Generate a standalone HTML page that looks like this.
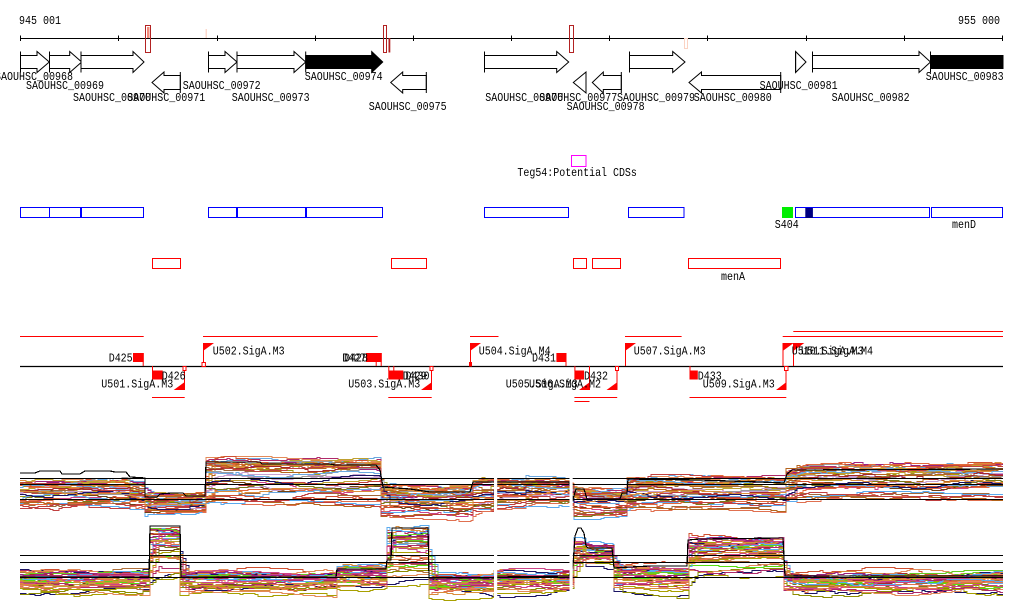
<!DOCTYPE html>
<html><head><meta charset="utf-8">
<style>
html,body{margin:0;padding:0;background:#fff;width:1024px;height:611px;overflow:hidden}
svg{display:block}
text{font-family:"Liberation Mono","DejaVu Sans Mono",monospace;font-size:12px;fill:#000}
</style></head><body>
<svg id="s" width="1024" height="611" viewBox="0 0 1024 611" xmlns="http://www.w3.org/2000/svg">
<rect width="1024" height="611" fill="#fff"/>

<!-- ===== coordinate axis ===== -->
<text x="19" y="24" textLength="42" lengthAdjust="spacingAndGlyphs">945 001</text>
<text x="958" y="24" textLength="42" lengthAdjust="spacingAndGlyphs">955 000</text>
<line x1="20.5" y1="38.5" x2="1003" y2="38.5" stroke="#000"/>
<path d="M20.5 35.5V41M118.5 35.5V41M217.5 35.5V41M315.5 35.5V41M413.5 35.5V41M511.5 35.5V41M609.5 35.5V41M707.5 35.5V41M806.5 35.5V41M904.5 35.5V41M1002.5 35.5V41" stroke="#000" fill="none"/>

<!-- red marks on axis -->
<rect x="147" y="27" width="2.5" height="11" fill="#f28a7a"/>
<rect x="145.5" y="25.5" width="5" height="27" fill="none" stroke="#b22222"/>
<rect x="205.5" y="29" width="1.5" height="9" fill="#fcd9cc"/>
<rect x="383.5" y="25.5" width="3" height="27" fill="none" stroke="#b22222"/>
<rect x="388.5" y="38" width="1.8" height="14.5" fill="#b22222"/>
<rect x="569.5" y="25.5" width="4" height="27" fill="none" stroke="#b22222"/>
<rect x="684.5" y="38.5" width="3" height="10" fill="none" stroke="#fbd3c3"/>

<!-- ===== genes: forward row ===== -->
<g stroke="#000" stroke-width="1" fill="#fff">
<polygon points="20.5,55.5 37,55.5 37,51.5 49.3,62 37,72.5 37,68.5 20.5,68.5"/>
<polygon points="49.5,55.5 69.7,55.5 69.7,51.5 81.7,62 69.7,72.5 69.7,68.5 49.5,68.5"/>
<polygon points="81,55.5 133,55.5 133,51.5 144,62 133,72.5 133,68.5 81,68.5"/>
<polygon points="208.5,55.5 225,55.5 225,51.5 237,62 225,72.5 225,68.5 208.5,68.5"/>
<polygon points="237,55.5 294,55.5 294,51.5 305.7,62 294,72.5 294,68.5 237,68.5"/>
<polygon points="305.7,55.5 371.7,55.5 371.7,51.5 382.7,62 371.7,72.5 371.7,68.5 305.7,68.5" fill="#000"/>
<polygon points="484.5,55.5 556.7,55.5 556.7,51.5 568.7,62 556.7,72.5 556.7,68.5 484.5,68.5"/>
<polygon points="629.5,55.5 672.7,55.5 672.7,51.5 685,62 672.7,72.5 672.7,68.5 629.5,68.5"/>
<polygon points="795.6,51.5 806,62 795.6,72.5"/>
<polygon points="812.5,55.5 919,55.5 919,51.5 930.5,62 919,72.5 919,68.5 812.5,68.5"/>
<rect x="930.5" y="55.5" width="72.5" height="13" fill="#000"/>
<path d="M20.5 51.5V72.5M49.5 51.5V72.5M81 51.5V72.5M208.5 51.5V72.5M237 51.5V72.5M305.7 51.5V72.5M484.5 51.5V72.5M629.5 51.5V72.5M795.6 51.5V72.5M812.5 51.5V72.5M930.5 51.5V72.5" fill="none"/>
<!-- reverse row -->
<polygon points="180.3,75.5 164,75.5 164,72 152,82.5 164,93 164,89.5 180.3,89.5"/>
<polygon points="426.3,75.5 402.7,75.5 402.7,72 390.7,82.5 402.7,93 402.7,89.5 426.3,89.5"/>
<polygon points="586,72 573.3,82.5 586,93"/>
<polygon points="621.3,75.5 603.3,75.5 603.3,72 592.3,82.5 603.3,93 603.3,89.5 621.3,89.5"/>
<polygon points="780.7,75.5 701.5,75.5 701.5,72 689,82.5 701.5,93 701.5,89.5 780.7,89.5"/>
<path d="M180.3 72V93M426.3 72V93M586 72V93M621.3 72V93M780.7 72V93" fill="none"/>
</g>

<!-- gene labels -->
<g>
<text x="-5" y="80" textLength="78" lengthAdjust="spacingAndGlyphs">SAOUHSC_00968</text>
<text x="26" y="89" textLength="78" lengthAdjust="spacingAndGlyphs">SAOUHSC_00969</text>
<text x="73" y="101" textLength="78" lengthAdjust="spacingAndGlyphs">SAOUHSC_00970</text>
<text x="127.3" y="101" textLength="78" lengthAdjust="spacingAndGlyphs">SAOUHSC_00971</text>
<text x="182.7" y="89" textLength="78" lengthAdjust="spacingAndGlyphs">SAOUHSC_00972</text>
<text x="231.7" y="101" textLength="78" lengthAdjust="spacingAndGlyphs">SAOUHSC_00973</text>
<text x="304.7" y="80" textLength="78" lengthAdjust="spacingAndGlyphs">SAOUHSC_00974</text>
<text x="368.7" y="110" textLength="78" lengthAdjust="spacingAndGlyphs">SAOUHSC_00975</text>
<text x="485.2" y="101" textLength="78" lengthAdjust="spacingAndGlyphs">SAOUHSC_00976</text>
<text x="539.3" y="101" textLength="78" lengthAdjust="spacingAndGlyphs">SAOUHSC_00977</text>
<text x="566.6" y="110" textLength="78" lengthAdjust="spacingAndGlyphs">SAOUHSC_00978</text>
<text x="617" y="101" textLength="78" lengthAdjust="spacingAndGlyphs">SAOUHSC_00979</text>
<text x="693.8" y="101" textLength="78" lengthAdjust="spacingAndGlyphs">SAOUHSC_00980</text>
<text x="759.6" y="89" textLength="78" lengthAdjust="spacingAndGlyphs">SAOUHSC_00981</text>
<text x="831.6" y="101" textLength="78" lengthAdjust="spacingAndGlyphs">SAOUHSC_00982</text>
<text x="925.7" y="80" textLength="78" lengthAdjust="spacingAndGlyphs">SAOUHSC_00983</text>
</g>

<!-- ===== Teg54 ===== -->
<rect x="571.5" y="155.5" width="14.5" height="11" fill="none" stroke="#f0f"/>
<text x="517.4" y="176" textLength="119.5" lengthAdjust="spacingAndGlyphs">Teg54:Potential CDSs</text>

<!-- ===== blue boxes ===== -->
<g fill="none" stroke="#00f">
<rect x="20.5" y="207.5" width="29" height="10"/>
<rect x="49.5" y="207.5" width="31" height="10"/>
<rect x="81.5" y="207.5" width="62" height="10"/>
<rect x="208.5" y="207.5" width="28" height="10"/>
<rect x="237.5" y="207.5" width="68" height="10"/>
<rect x="306.5" y="207.5" width="76" height="10"/>
<rect x="484.5" y="207.5" width="84" height="10"/>
<rect x="628.5" y="207.5" width="55.5" height="10"/>
<rect x="795.5" y="207.5" width="134" height="10"/>
<rect x="931.5" y="207.5" width="71" height="10"/>
</g>
<rect x="782" y="207" width="11" height="11" fill="#00ee00"/>
<rect x="805.3" y="208" width="7.6" height="10" fill="#000080"/>
<text x="774.8" y="228" textLength="24" lengthAdjust="spacingAndGlyphs">S404</text>
<text x="952" y="228" textLength="24" lengthAdjust="spacingAndGlyphs">menD</text>

<!-- ===== red boxes ===== -->
<g fill="none" stroke="#f00">
<rect x="152.5" y="258.5" width="28" height="10"/>
<rect x="391.5" y="258.5" width="35" height="10"/>
<rect x="573.5" y="258.5" width="13" height="10"/>
<rect x="592.5" y="258.5" width="28" height="10"/>
<rect x="688.5" y="258.5" width="92" height="10"/>
</g>
<text x="721" y="280" textLength="24" lengthAdjust="spacingAndGlyphs">menA</text>

<!-- ===== D/U track ===== -->
<g stroke="#f00" stroke-width="1" fill="none">
<path d="M20 336.5H143.7M203 336.5H377.7M470 336.5H498.5M625 336.5H681.6M782.7 336.5H1003M793.3 331.5H1003"/>
<path d="M152 397.5H184.7M388.3 397.5H431.7M574.4 397.5H617.2M689.5 397.5H786.3M574.4 401.5H589.5"/>
</g>
<line x1="20" y1="366.5" x2="1003" y2="366.5" stroke="#000" stroke-width="1.2"/>

<!-- D features -->
<g fill="#f00">
<rect x="133" y="353" width="10.7" height="9"/>
<rect x="152" y="370.5" width="10.7" height="9"/>
<rect x="366" y="353" width="10.7" height="9"/>
<rect x="371" y="353" width="10.7" height="9"/>
<rect x="388.3" y="370.5" width="10" height="9"/>
<rect x="393.3" y="370.5" width="10" height="9"/>
<rect x="556.4" y="353" width="10.1" height="9"/>
<rect x="574.4" y="370.5" width="9.6" height="9"/>
<rect x="689.5" y="370.5" width="8.3" height="9"/>
</g>
<g stroke="#f00" fill="none">
<path d="M143.2 353V366M152.5 366V371M376.2 353V366M381.2 353V366M388.8 366V371M393.8 366V371M566 353V366M574.9 366V371M690 366V371"/>
</g>

<!-- U flags -->
<g stroke="#f00" fill="none">
<path d="M203.5 343V362.5M470.5 343V362.5M625.5 343V366M783 343V366M793.5 343V366"/>
<path d="M184.5 370V390M431.5 370V390M617 370V390M589.5 366V390M786 370V390"/>
<rect x="202" y="362.5" width="3.4" height="4" fill="#fff"/>
<rect x="183" y="366.5" width="3" height="4" fill="#fff"/>
<rect x="430" y="366.5" width="3" height="4" fill="#fff"/>
<rect x="615.5" y="366.5" width="3" height="4" fill="#fff"/>
<rect x="784.5" y="366.5" width="3.5" height="4" fill="#fff"/>
</g>
<rect x="469" y="362" width="3" height="4.5" fill="#f00"/>
<g fill="#f00">
<polygon points="203,343 214,343 203,351"/>
<polygon points="470,343 481,343 470,351"/>
<polygon points="625,343 636,343 625,351"/>
<polygon points="782.7,343 793.7,343 782.7,351"/>
<polygon points="793.3,343 804.3,343 793.3,351"/>
<polygon points="173.7,390 184.7,390 184.7,382"/>
<polygon points="421,390 432,390 432,382"/>
<polygon points="606.5,390 617.5,390 617.5,382"/>
<polygon points="579,390 590,390 590,382"/>
<polygon points="776,390 786.5,390 786.5,382"/>
</g>

<!-- D/U labels -->
<g>
<text x="108.7" y="361.7" textLength="24" lengthAdjust="spacingAndGlyphs">D425</text>
<text x="161.7" y="379.3" textLength="24" lengthAdjust="spacingAndGlyphs">D426</text>
<text x="342.3" y="361.7" textLength="24" lengthAdjust="spacingAndGlyphs">D427</text>
<text x="344" y="361.7" textLength="24" lengthAdjust="spacingAndGlyphs">D428</text>
<text x="402.7" y="379.3" textLength="24" lengthAdjust="spacingAndGlyphs">D429</text>
<text x="405.5" y="379.3" textLength="24" lengthAdjust="spacingAndGlyphs">D430</text>
<text x="532" y="361.7" textLength="24" lengthAdjust="spacingAndGlyphs">D431</text>
<text x="584" y="379.3" textLength="24" lengthAdjust="spacingAndGlyphs">D432</text>
<text x="697.8" y="379.3" textLength="24" lengthAdjust="spacingAndGlyphs">D433</text>
<text x="101.3" y="387.7" textLength="72" lengthAdjust="spacingAndGlyphs">U501.SigA.M3</text>
<text x="212.7" y="354.3" textLength="72" lengthAdjust="spacingAndGlyphs">U502.SigA.M3</text>
<text x="348.3" y="387.7" textLength="72" lengthAdjust="spacingAndGlyphs">U503.SigA.M3</text>
<text x="478.7" y="354.3" textLength="72" lengthAdjust="spacingAndGlyphs">U504.SigA.M4</text>
<text x="505.7" y="387.7" textLength="72" lengthAdjust="spacingAndGlyphs">U505.SigA.M3</text>
<text x="529" y="387.7" textLength="72" lengthAdjust="spacingAndGlyphs">U506.SigA.M2</text>
<text x="633.7" y="354.3" textLength="72" lengthAdjust="spacingAndGlyphs">U507.SigA.M3</text>
<text x="702.8" y="387.7" textLength="72" lengthAdjust="spacingAndGlyphs">U509.SigA.M3</text>
<text x="791.7" y="354.3" textLength="72" lengthAdjust="spacingAndGlyphs">U510.SigA.M3</text>
<text x="801" y="354.3" textLength="72" lengthAdjust="spacingAndGlyphs">U511.SigA.M4</text>
</g>

<!-- ===== expression plots ===== -->
<g id="bands" stroke-width="1" fill="none" shape-rendering="crispEdges"></g>
<g stroke="#000" stroke-width="1.2" fill="none" shape-rendering="crispEdges">
<path d="M20 478.5H1003M20 484.5H1003M20 499.5H1003M20 555.5H1003M20 562.5H1003M20 577.5H1003"/>
<polyline points="20,473 35,473 40,471 60,471 62,474 80,474 85,471 110,471 115,472 126,472 130,477 145,478 145,497 157,497 160,494 172,493 183,493 186,496 205,496 206,462 260,462 262,464 330,464 335,465 376,465 380,470 383,487 410,489 430,492 470,492 473,482 569,482 573,499 576,489 584,489 587,499 620,499 622,493 627,493 628,479 700,480 760,482 784,483 787,474 792,470 1003,469"/>
<polyline points="20,577 149,577 150,526 180,526 181,577 336,577 337,569 386,569 387,560 391,560 392,528 428,528 429,578 494,578 497,577 569,576 573,565 575,536 578,528 581,528 584,533 586,546 588,548 612,548 614,568 630,567 650,566 687,566 688,540 700,539 783,538 785,576 1003,576"/>
</g>
<rect x="494" y="450" width="3.2" height="155" fill="#fff"/>
<rect x="569.5" y="450" width="3.2" height="155" fill="#fff"/>
</svg>
<script>
(function(){
var NS="http://www.w3.org/2000/svg";
var g=document.getElementById("bands");
var seed=246813579;
function R(){seed=(Math.imul(seed,1664525)+1013904223)>>>0;return seed/4294967296;}
var pal=["#e0602a","#e0602a","#e2683c","#a8a000","#a8a000","#9b9b1a","#8c8c00","#55dd11","#66cc22","#5aaaee","#6aa8e0","#9a2080","#b02a6a","#1b1464","#a0683a","#b0703a","#c8a0d0","#d98c3a","#d98c3a","#c04040","#999999","#b5651d","#e07050","#704214","#cc4488","#bfa030","#e38b5a","#a52a2a","#d05030","#7a7a1a"];
var p1=[[20,130,482,508],[130,145,487,506],[145,206,497,513],[206,381,462,505],[381,473,490,515],[473,494,482,511],[494,526,483,505],[526,570,481,503],[570,574,486,508],[574,627,491,516],[627,786,479,509],[786,797,472,500],[797,1003,467,498]];
var p2=[[20,150,572,594],[150,180,527,579],[180,337,574,593],[337,387,568,589],[387,429,529,586],[429,494,577,596],[494,570,573,593],[570,574,560,590],[574,586,543,566],[586,614,547,568],[614,689,568,593],[689,784,538,578],[784,1003,574,595]];
function band(segs,N,pw){
  for(var i=0;i<N;i++){
    var r=R();var col=pal[Math.floor(R()*pal.length)];
    var ph=R()*6.28, per=90+R()*120, amp=1+R()*2;
    var pts=[];var noise=(R()-0.5)*3;var prevY=null;var prevBase=null;
    for(var s=0;s<segs.length;s++){
      var sg=segs[s];
      var lr=Math.min(1,Math.max(0,r+(R()-0.5)*0.25));
      var y0=sg[2]+(sg[3]-sg[2])*Math.pow(lr,pw);
      var ramp=(R()<0.3)?3:0;
      for(var x=sg[0];x<sg[1];x+=3){
        if(R()<0.14){noise+=(R()<0.5?-1:1)*(1+Math.floor(R()*2));if(noise>4)noise=4;if(noise<-4)noise=-4;}
        var base=y0;
        if(ramp>0&&prevBase!==null&&x<sg[0]+3*ramp){var t=(x-sg[0])/(3*ramp);base=prevBase+(y0-prevBase)*(0.5+0.5*t);}
        var y=Math.round(base+noise+amp*Math.sin(x/per*6.28+ph))+0.5;
        if(prevY!==null&&y!==prevY)pts.push(x+","+prevY);
        if(prevY===null||y!==prevY||x===sg[0])pts.push(x+","+y);
        prevY=y;
      }
      prevBase=y0;
    }
    pts.push("1003,"+prevY);
    var pl=document.createElementNS(NS,"polyline");
    pl.setAttribute("points",pts.join(" "));
    pl.setAttribute("stroke",col);
    pl.setAttribute("fill","none");
    g.appendChild(pl);
  }
}
band(p1,40,1.5);
band(p2,40,1.5);
})();
</script>
</body></html>
